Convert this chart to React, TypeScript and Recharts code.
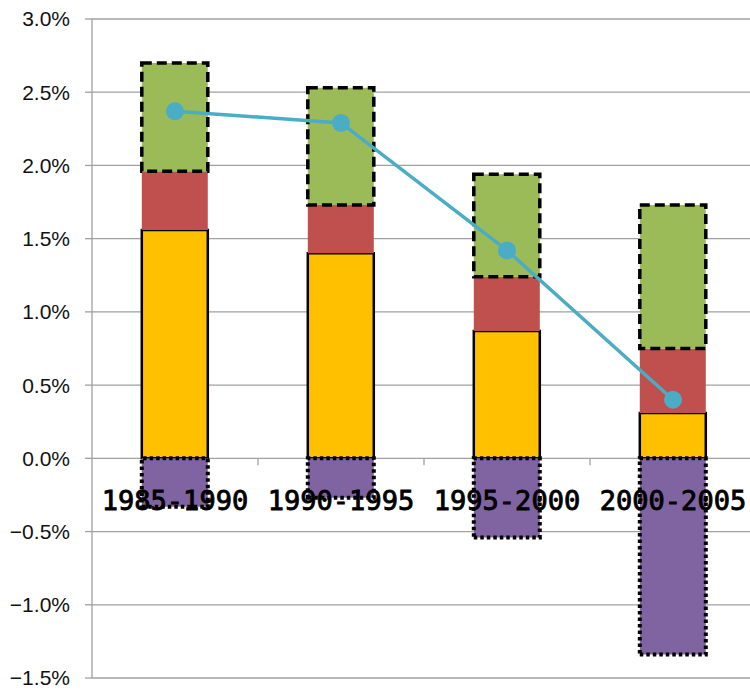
import React from 'react';
import { ComposedChart, Bar, Line, XAxis, YAxis, CartesianGrid } from 'recharts';

const categories = ['1985-1990', '1990-1995', '1995-2000', '2000-2005'];
const orangeValues = [1.56, 1.40, 0.87, 0.31];
const redValues = [0.40, 0.33, 0.37, 0.44];
const greenValues = [0.74, 0.80, 0.70, 0.98];
const purpleValues = [-0.33, -0.27, -0.54, -1.34];
const totalValues = [2.37, 2.29, 1.42, 0.40];
const yTicks = [-1.5, -1.0, -0.5, 0, 0.5, 1.0, 1.5, 2.0, 2.5, 3.0];

const data = categories.map((name, i) => ({
  name,
  orange: orangeValues[i],
  red: redValues[i],
  green: greenValues[i],
  purple: purpleValues[i],
  total: totalValues[i],
}));

const CHART_W = 760;
const CHART_H = 693;
const M_TOP = 19;
const X_AXIS_H = 15;
const Y_AXIS_W = 92;
const M_RIGHT = 4;
const PLOT_H = CHART_H - M_TOP - X_AXIS_H;
const PLOT_W = CHART_W - Y_AXIS_W - M_RIGHT;
const Y_MIN = -1.5;
const Y_MAX = 3.0;
const ZERO_Y = M_TOP + ((Y_MAX - 0) / (Y_MAX - Y_MIN)) * PLOT_H;
const BAND = PLOT_W / categories.length;

const fmt = (v: number) => (v < 0 ? '\u2212' : '') + Math.abs(v).toFixed(1) + '%';

const XTick = (props: any) => {
  const { x, payload, index } = props;
  return (
    <g>
      {index < categories.length - 1 && (
        <line x1={x + BAND / 2} x2={x + BAND / 2} y1={ZERO_Y} y2={ZERO_Y + 7} stroke="#a0a0a0" strokeWidth={1.3} />
      )}
      <text
        x={x}
        y={ZERO_Y + 52}
        textAnchor="middle"
        fill="#000"
        stroke="#000"
        strokeWidth={0.9}
        fontFamily="'DejaVu Sans Mono', monospace"
        fontSize={27}
      >
        {payload.value}
      </text>
    </g>
  );
};

export default function App() {
  return (
    <div style={{ position: 'absolute', left: 0, top: 0, width: 750, height: 693, overflow: 'hidden', background: '#fff' }}>
      <ComposedChart
        width={CHART_W}
        height={CHART_H}
        data={data}
        stackOffset="sign"
        barCategoryGap="30%"
        margin={{ top: M_TOP, right: M_RIGHT, bottom: 0, left: 0 }}
      >
        <CartesianGrid vertical={false} stroke="#a0a0a0" strokeWidth={1.3} />
        <YAxis
          width={Y_AXIS_W}
          domain={[Y_MIN, Y_MAX]}
          ticks={yTicks}
          interval={0}
          tickFormatter={fmt}
          axisLine={{ stroke: '#a0a0a0', strokeWidth: 1.3 }}
          tickLine={{ stroke: '#a0a0a0', strokeWidth: 1.3 }}
          tickSize={7}
          tickMargin={15}
          tick={{ fill: '#111', fontSize: 21, fontFamily: "'Liberation Sans', Arial, sans-serif" }}
        />
        <XAxis
          dataKey="name"
          height={X_AXIS_H}
          axisLine={false}
          tickLine={false}
          interval={0}
          tick={<XTick />}
        />
        <Bar dataKey="orange" stackId="a" fill="#FFC000" stroke="#000" strokeWidth={2.5} isAnimationActive={false} />
        <Bar dataKey="red" stackId="a" fill="#C0504D" isAnimationActive={false} />
        <Bar dataKey="green" stackId="a" fill="#9BBB59" stroke="#000" strokeWidth={3.5} strokeDasharray="10 5" isAnimationActive={false} />
        <Bar dataKey="purple" stackId="a" fill="#8064A2" stroke="#000" strokeWidth={4} strokeDasharray="3.5 3" isAnimationActive={false} />
        <Line
          dataKey="total"
          stroke="#4BACC6"
          strokeWidth={3.5}
          dot={{ r: 9, fill: '#4BACC6', stroke: 'none' }}
          isAnimationActive={false}
        />
      </ComposedChart>
    </div>
  );
}
